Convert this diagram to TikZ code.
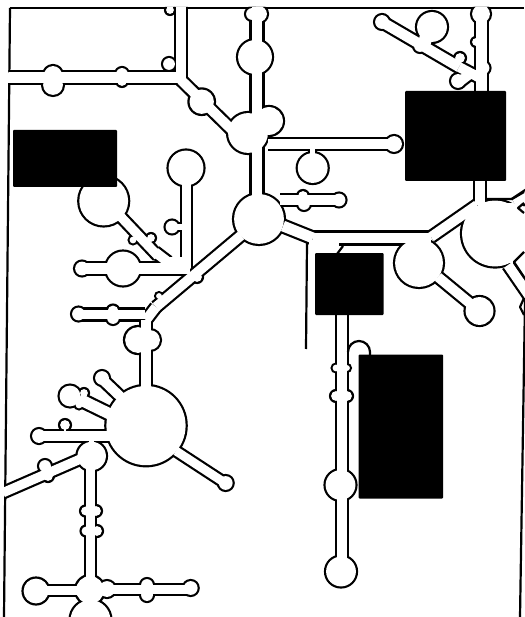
\documentclass[tikz,border=0pt]{standalone}

% Round bulges of the fold: x/y/radius
\newcommand{\foldloops}{%
    53/75/10, 53/85/11, 122/74/7, 122/81/6, 169/64/7, 170/10/5,
    201.7/101.7/13.3, 255/57/18, 252/14/7, 259/14/9, 248/133/21, 269/121/15,
    394/144/9, 312.7/168/16, 259/219/26, 303/196/6, 304/204/7, 339/200/7.5,
    432/27/16, 382/22/8, 420/46/7, 460/58/6, 458/81/8, 481/14/10, 476/42/5, 483/68/7.5,
    103.7/201/25.5, 186/168/18.5, 172/227/7.5, 151/238/5, 133/240/4.5,
    82/268.5/8, 123/268.5/18, 197/277/6, 159/296/4,
    78.5/314/7.5, 113/311/6.5, 113/318/7, 138/340/14, 150/340/11,
    146/425.6/40.7, 225.7/483/8, 102/378/8, 70/396/11.5, 84/393/5, 79/405/4.5,
    39/436/8, 65/425/6, 91.7/456/15.3, 45/466/7, 48/476/6,
    85.5/511/5.5, 96/511/6, 86/531/5.5, 97/531/6,
    36/591/13.5, 90/590/15, 107/589/9, 147/585/7, 147/595/7, 190.7/588/8, 90.5/620/21,
    419/263/25, 495/233.5/34, 479.5/311/15,
    336/368/4.5, 347/368/4, 336/396/6, 347/396/6, 340.5/485/16, 341/571.5/16%
}

% Straight stems of the fold: x1/y1/x2/y2/width
\newcommand{\foldstems}{%
    3/77.5/181/77.5/12.5, 181/3/181/80/12.5, 181/80/232/130/12,
    257/3/257/195/13, 268/144/392/144/12, 312.5/145/312.5/158/7,
    280/200/340/200/12.5, 283/226/313/238/13, 313/238/431/238/13,
    431/237/477/205/12, 480/170/480/205/12, 515/204/530/194/12,
    508/265/530/297/12, 438/277/478/310/12,
    382/22/459/67/12.5, 459/67/480/78/12, 481.5/3/481.5/95/13, 471/73/458/83/12,
    429/28/424/44/15,
    121/217/158/256/11.5, 155/252/168/262/12, 186.5/180/186.5/268/11, 172/227/186/227/8,
    82/268.5/190/268.5/13, 241/235.5/156/307/12, 156/307/146/320/12,
    78/314.5/145/314.5/12, 146/320/146/390/12,
    176/451/225/483/11, 103/380/125/401/12, 79/399/118/418/13.5, 39/436/112/436/11.5,
    65/425/65/433/5, 91.5/436/91.5/450/8, 3/492.7/85/457/11.5, 90.5/465/90.5/610/11.5,
    36/590.5/90/590.5/11.5, 90/589.7/190/589.7/11,
    342/300/342/571/11.5%
}

% One pass over the fold; #2 grows or shrinks everything
\newcommand{\foldlayer}[2]{%
    \foreach \cx/\cy/\cr in \foldloops
        \fill[#1] (\cx,\cy) circle[radius=\cr+#2];
    \foreach \ax/\ay/\bx/\by/\sw in \foldstems
        \draw[#1, line width={(\sw+2*#2)*1pt}] (\ax,\ay) -- (\bx,\by);
}

\tikzset{
    wall/.style={line width=2.2pt, line join=round},
    block/.style={fill=black, rounded corners=1pt}
}

\begin{document}
\begin{tikzpicture}[x=1pt, y=-1pt]
    \useasboundingbox (0,0) rectangle (524,617);

    % Frame
    \draw[wall] (10,8) -- (524,8);
    \draw[wall] (10,8) -- (4,617);
    \draw[wall] (525,300) -- (520,617);

    % Fold, outline first and inside over it
    \begin{scope}
        \clip (8.9,6.9) -- (526,6.9) -- (526,300) -- (521,617) -- (2.9,617) -- cycle;
        \foldlayer{black}{1.1}
        \foldlayer{white}{-1.1}
        % Openings that have no outline
        \fill[white] (510,233) circle[radius=30];
        \draw[white, line width=30pt] (324,240) -- (324,262);
        \draw[white, line width=11pt] (162,262) -- (184,262);
    \end{scope}

    % Loose walls
    \draw[wall] (307,243) -- (306,349);
    \draw[wall] (337,254) -- (343,246);
    \draw[wall] (348,352) arc[start angle=180, end angle=360, radius=11] -- (370,358);
    \draw[wall] (486,199) -- (512,199) -- (524,192);
    \draw[wall] (524,203) -- (518,208) -- (524,213);
    \draw[wall] (524,252) -- (514,262) -- (524,277);
    \draw[wall] (524,298) -- (520,307) -- (524,315);

    % Black blocks
    \fill[block] (405,91) rectangle (506,181);
    \fill[block] (13,130) rectangle (117,187);
    \fill[block] (315,253) rectangle (383.5,315);
    \fill[block] (358.5,354.5) rectangle (443,498.5);
\end{tikzpicture}
\end{document}
